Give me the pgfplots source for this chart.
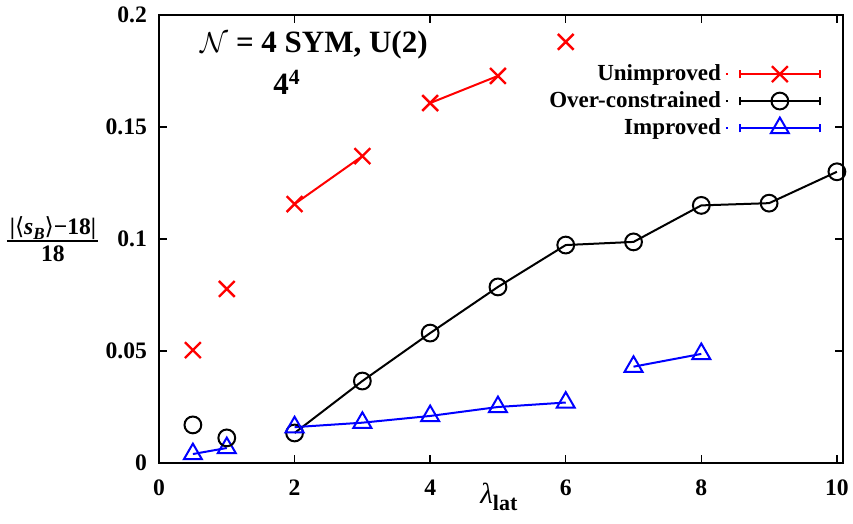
\documentclass[border=0pt]{standalone}
\usepackage{fontspec}
\setmainfont{Liberation Serif}
\newfontfamily\dejavu{DejaVu Sans}
\usepackage{pgfplots}
\pgfplotsset{compat=1.18}
\usetikzlibrary{calc}
\definecolor{pred}{RGB}{255,0,0}
\definecolor{pblue}{RGB}{0,0,255}
\pgfplotsset{
  errlegend/.style={legend image code/.code={
    \path (0pt,0pt) -- (1pt,0pt);
    \draw[##1] (7pt,0pt) -- (47pt,0pt);
    \draw[##1] (7pt,-2.2pt) -- (7pt,2.2pt);
    \draw[##1] (47pt,-2.2pt) -- (47pt,2.2pt);
    \draw[##1] plot coordinates {(27pt,0pt)};
  }},
}
\begin{document}
\begin{tikzpicture}
\begin{axis}[
  name=ax,
  scale only axis,
  width=342pt, height=224pt,
  xmin=0, xmax=10.09, ymin=0, ymax=0.2,
  xtick={0,2,4,6,8,10}, xticklabels={0,2,4,6,8,10},
  ytick={0,0.05,0.1,0.15,0.2}, yticklabels={0,0.05,0.1,0.15,0.2},
  tick align=inside, major tick length=4pt,
  xtick pos=both, ytick pos=both,
  axis line style={line width=0.9pt},
  every tick/.style={black, line width=0.7pt},
  tick label style={font=\fontsize{11.8}{13}\selectfont\bfseries},
  xticklabel style={yshift=-5pt},
  yticklabel style={xshift=-2.5pt},
  clip=false,
  legend style={draw=none, fill=none, at={(rel axis cs:0.977,0.908)}, anchor=north east,
    font=\fontsize{11.5}{13}\selectfont\bfseries, row sep=0pt},
  legend cell align=right,
  legend plot pos=right,
]
% Unimproved
\addplot[pred, line width=1pt, mark=x, mark size=5.6pt, mark options={line width=1.2pt}, errlegend]
  coordinates {(0.5,0.0504)};
\addlegendentry{Unimproved}
% Over-constrained
\addplot[black, line width=1pt, mark=o, mark size=4.2pt, mark options={line width=1pt}, errlegend]
  coordinates {(0.5,0.017)};
\addlegendentry{Over-constrained}
% Improved
\addplot[pblue, line width=1pt, mark=triangle, mark size=5.2pt, mark options={line width=1pt}, errlegend]
  coordinates {(0.5,0.0040) (1,0.0067)};
\addlegendentry{Improved}

% remaining unimproved
\addplot[pred, line width=1pt, mark=x, mark size=5.6pt, mark options={line width=1.2pt}, forget plot]
  coordinates {(1,0.0777)};
\addplot[pred, line width=1pt, mark=x, mark size=5.6pt, mark options={line width=1.2pt}, forget plot]
  coordinates {(2,0.1156) (3,0.1370)};
\addplot[pred, line width=1pt, mark=x, mark size=5.6pt, mark options={line width=1.2pt}, forget plot]
  coordinates {(4,0.1607) (5,0.1728)};
\addplot[pred, line width=1pt, mark=x, mark size=5.6pt, mark options={line width=1.2pt}, forget plot]
  coordinates {(6,0.1880)};
% remaining over-constrained
\addplot[black, line width=1pt, mark=o, mark size=4.2pt, mark options={line width=1pt}, forget plot]
  coordinates {(1,0.0112)};
\addplot[black, line width=1pt, mark=o, mark size=4.2pt, mark options={line width=1pt}, forget plot]
  coordinates {(2,0.0134) (3,0.0366) (4,0.0580) (5,0.0786) (6,0.0973) (7,0.0987)
   (8,0.1150) (9,0.1160) (10,0.1300)};
% remaining improved
\addplot[pblue, line width=1pt, mark=triangle, mark size=5.2pt, mark options={line width=1pt}, forget plot]
  coordinates {(2,0.0160) (3,0.0180) (4,0.0210) (5,0.0250) (6,0.0270)};
\addplot[pblue, line width=1pt, mark=triangle, mark size=5.2pt, mark options={line width=1pt}, forget plot]
  coordinates {(7,0.0430) (8,0.0487)};
\end{axis}
\node[anchor=base west, inner sep=0pt, font=\fontsize{15.5}{18}\selectfont\bfseries]
  at ($(ax.south west)+(20.5pt,205pt)$) {$\mathcal{N}$ = 4 SYM, U(2)};
\node[anchor=base west, inner sep=0pt, font=\fontsize{15.5}{18}\selectfont\bfseries]
  at ($(ax.south west)+(57pt,184pt)$) {4\textsuperscript{4}};
\node[anchor=base, inner sep=0pt, font=\fontsize{11.8}{14}\selectfont\bfseries]
  at ($(ax.south west)+(-53pt,114pt)$) {\textbar{\dejavu\mdseries\symbol{"27E8}}\textit{s}\raisebox{-0.4ex}{\fontsize{8.5}{10}\selectfont\textit{B}}{\dejavu\mdseries\symbol{"27E9}}−18\textbar};
\draw[line width=0.8pt] ($(ax.south west)+(-76pt,111pt)$) -- ($(ax.south west)+(-30.5pt,111pt)$);
\node[anchor=base, inner sep=0pt, font=\fontsize{11.8}{14}\selectfont\bfseries]
  at ($(ax.south west)+(-53pt,100.5pt)$) {18};
\node[anchor=base west, inner sep=0pt, font=\fontsize{14.5}{16}\selectfont]
  at ($(ax.south west)+(160.5pt,-20.5pt)$) {\textit{λ}\raisebox{-0.5ex}{\fontsize{11}{12}\selectfont\bfseries lat}};
\pgfresetboundingbox
\path ($(ax.south west)+(-79.5pt,-30.5pt)$) rectangle ($(ax.north east)+(5pt,7.5pt)$);
\end{tikzpicture}
\end{document}
